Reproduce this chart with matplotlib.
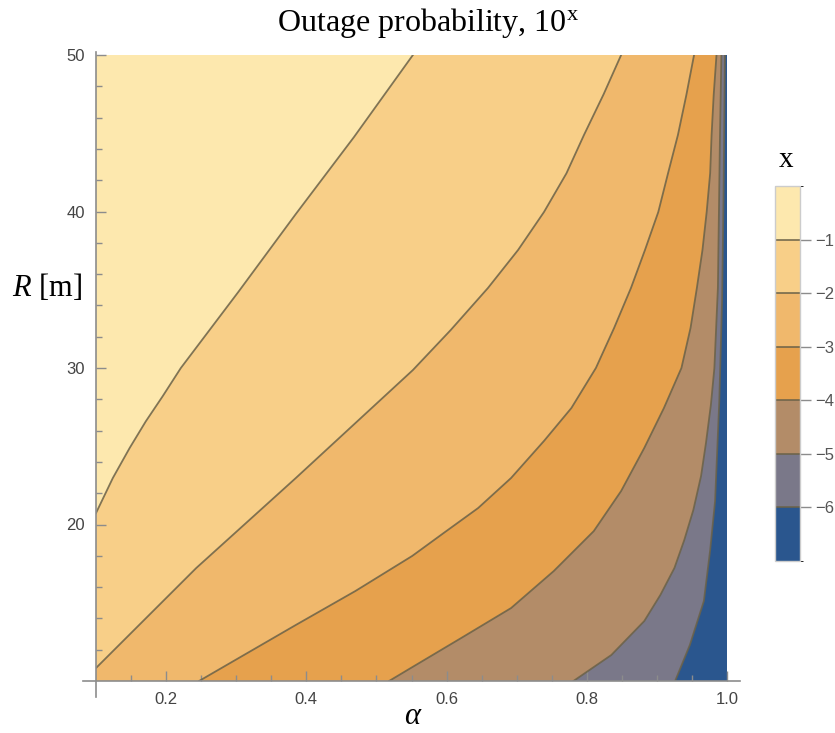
import numpy as np
import matplotlib
matplotlib.use("Agg")
import matplotlib.pyplot as plt
from matplotlib.colors import ListedColormap, BoundaryNorm
from matplotlib.cm import ScalarMappable

plt.rcParams['mathtext.fontset'] = 'custom'
plt.rcParams['mathtext.rm'] = 'Liberation Serif'
plt.rcParams['mathtext.it'] = 'Liberation Serif:italic'

# contour levels (log10 of outage probability) and band colours, highest first
levels = [-1, -2, -3, -4, -5, -6]
band_colors = ['#fde8ae', '#f8cf88', '#f0b86c', '#e6a14d', '#b38c68', '#7a7889', '#2a568e']

# contour curves: alpha, R
a_m1 = [0.100, 0.124, 0.148, 0.171, 0.195, 0.221, 0.303, 0.385, 0.468, 0.552]
r_m1 = [20.73, 22.97, 24.89, 26.59, 28.19, 30.00, 34.86, 39.84, 44.76, 50.0]

a_m2 = [0.100, 0.243, 0.385, 0.552, 0.606, 0.659, 0.702, 0.739, 0.771, 0.796, 0.824, 0.849]
r_m2 = [10.83, 17.22, 22.97, 29.87, 32.43, 35.11, 37.54, 39.97, 42.44, 44.89, 47.49, 50.0]

a_m3 = [0.247, 0.385, 0.470, 0.551, 0.596, 0.645, 0.692, 0.739, 0.778, 0.813,
        0.839, 0.863, 0.883, 0.902, 0.916, 0.930, 0.942, 0.953]
r_m3 = [10.0, 13.58, 15.75, 17.99, 19.46, 21.05, 22.97, 25.34, 27.44, 30.00,
        32.56, 35.11, 37.54, 39.97, 42.46, 44.89, 47.44, 50.0]

a_m4 = [0.518, 0.549, 0.621, 0.692, 0.753, 0.810, 0.849, 0.882, 0.910, 0.935,
        0.948, 0.957, 0.965, 0.971, 0.976, 0.978, 0.981, 0.985]
r_m4 = [10.0, 10.83, 12.75, 14.66, 17.03, 19.58, 22.14, 24.89, 27.44, 30.00,
        32.56, 35.11, 37.54, 39.97, 42.46, 44.89, 47.44, 50.0]

a_m5 = [0.781, 0.835, 0.882, 0.905, 0.925, 0.939, 0.952, 0.963, 0.970, 0.977, 0.982, 0.987, 0.990, 0.992]
r_m5 = [10.0, 11.66, 13.83, 15.50, 17.22, 19.00, 20.93, 23.10, 25.21, 27.64, 30.00, 35.11, 44.89, 50.0]

a_m6 = [0.926, 0.947, 0.967, 0.976, 0.983, 0.989, 0.993, 0.995, 0.997]
r_m6 = [10.0, 12.30, 15.11, 18.37, 21.50, 27.89, 34.35, 40.73, 50.0]

curves = [(a_m1, r_m1), (a_m2, r_m2), (a_m3, r_m3), (a_m4, r_m4), (a_m5, r_m5), (a_m6, r_m6)]

xmin, xmax, ymin, ymax = 0.1, 1.0, 10, 50
axis_col = '#8c8c8c'
line_col = '#6b6248'

fig = plt.figure(figsize=(8.35, 7.33), dpi=100)
ax = fig.add_axes([96/835, 1-681/733, 631/835, 626/733])

# background band, then each lower band on top of it
ax.fill([xmin, xmax, xmax, xmin], [ymin, ymin, ymax, ymax], color=band_colors[0], lw=0)
for i, (a, r) in enumerate(curves):
    px = list(a) + [xmax, xmax, xmin]
    py = list(r) + [ymax, ymin, ymin]
    ax.fill(px, py, color=band_colors[i+1], lw=0)
for a, r in curves:
    ax.plot(a, r, color=line_col, lw=1.3, alpha=0.85, solid_joinstyle='round')

ax.set_xlim(xmin, xmax)
ax.set_ylim(ymin, ymax)
for s in ax.spines.values():
    s.set_visible(False)

# Mathematica-style axes lines running a little past the plot
ax.plot([-0.02, 1.02], [0, 0], transform=ax.transAxes, color=axis_col, lw=1.2, clip_on=False)
ax.plot([0, 0], [-0.025, 1.005], transform=ax.transAxes, color=axis_col, lw=1.2, clip_on=False)

ax.set_xticks([0.2, 0.4, 0.6, 0.8, 1.0])
ax.set_xticklabels(['0.2', '0.4', '0.6', '0.8', '1.0'])
ax.set_xticks(np.arange(0.15, 1.0, 0.05)[[i for i in range(17) if i % 4 != 1]], minor=True)
ax.set_yticks([20, 30, 40, 50])
ax.set_yticks([12, 14, 16, 18, 22, 24, 26, 28, 32, 34, 36, 38, 42, 44, 46, 48], minor=True)
ax.tick_params(which='both', direction='in', color=axis_col, width=1.0,
               labelsize=12, labelcolor='#444444', pad=8)
ax.tick_params(which='major', length=7)
ax.tick_params(which='minor', length=4)
for lab in ax.get_xticklabels() + ax.get_yticklabels():
    lab.set_family('Liberation Sans')

fig.text(428/835, 1-23/733, r'Outage probability, $10^{\mathrm{x}}$', ha='center', va='center',
         family='Liberation Serif', fontsize=23)
fig.text(412/835, 1-716/733, 'α', ha='center', va='center', family='Liberation Serif',
         style='italic', fontsize=22)
fig.text(47/835, 1-288/733, r'$R$ [m]', ha='center', va='center', family='Liberation Serif',
         fontsize=22)

# legend bar
cax = fig.add_axes([775/835, 1-561/733, 25/835, 375/733])
bounds = [-7] + levels[::-1] + [0]
cmap = ListedColormap(band_colors[::-1])
norm = BoundaryNorm(bounds, cmap.N)
cb = fig.colorbar(ScalarMappable(norm=norm, cmap=cmap), cax=cax, ticks=levels)
cb.set_ticklabels(['\u22121', '\u22122', '\u22123', '\u22124', '\u22125', '\u22126'])
cb.outline.set_edgecolor('#cccccc')
cb.outline.set_linewidth(1.0)
for lv in levels:
    cax.axhline(lv, color=line_col, lw=1.3, alpha=0.85)
cax.tick_params(length=8, color=axis_col, width=1.0, labelsize=12, labelcolor='#555555', pad=3)
for lab in cax.get_yticklabels():
    lab.set_family('Liberation Sans')
fig.text(786/835, 1-160/733, 'x', ha='center', va='center', family='Liberation Serif', fontsize=21)

fig.savefig('out.png', dpi=100)
